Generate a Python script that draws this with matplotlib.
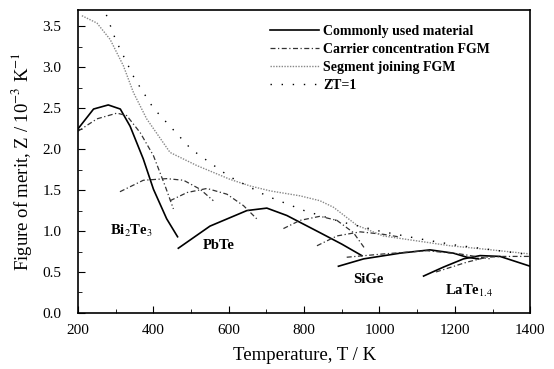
import numpy as np
import matplotlib.pyplot as plt
from matplotlib.ticker import MultipleLocator

plt.rcParams['font.family'] = ['Liberation Serif', 'DejaVu Serif']
plt.rcParams['mathtext.fontset'] = 'stix'

# commonly used material (solid)
bi_T = [200, 241, 280, 312, 338, 373, 400, 435, 464]
bi_Z = [2.25, 2.49, 2.54, 2.49, 2.28, 1.88, 1.51, 1.15, 0.93]
pb_T = [466, 550, 648, 701, 754, 842, 900, 953]
pb_Z = [0.79, 1.06, 1.25, 1.28, 1.19, 0.98, 0.84, 0.70]
sige_T = [891, 958, 1055, 1134, 1196, 1232, 1262]
sige_Z = [0.57, 0.66, 0.73, 0.77, 0.73, 0.68, 0.66]
late_T = [1117, 1170, 1223, 1267, 1320, 1400]
late_Z = [0.45, 0.56, 0.66, 0.70, 0.69, 0.57]

# carrier concentration FGM (dash-dot segments)
cc_T = [
    [200, 250, 303, 329, 365, 400, 431, 453],
    [311, 373, 435, 480, 524, 559],
    [444, 489, 542, 595, 639, 674],
    [745, 789, 842, 887, 931, 962],
    [834, 887, 949, 1010, 1050],
    [913, 1010, 1125, 1214, 1294],
    [1150, 1232, 1285, 1329, 1400],
]
cc_Z = [
    [2.22, 2.37, 2.44, 2.41, 2.20, 1.92, 1.55, 1.27],
    [1.48, 1.62, 1.64, 1.62, 1.51, 1.37],
    [1.37, 1.47, 1.52, 1.45, 1.31, 1.15],
    [1.03, 1.13, 1.18, 1.13, 0.98, 0.78],
    [0.82, 0.94, 0.99, 0.96, 0.93],
    [0.68, 0.72, 0.76, 0.72, 0.66],
    [0.50, 0.62, 0.68, 0.69, 0.69],
]

# segment joining FGM
sj_T = [210, 250, 285, 320, 347, 382, 444, 515, 604, 657, 710, 789, 842, 878,
        940, 1010, 1099, 1188, 1276, 1400]
sj_Z = [3.63, 3.54, 3.34, 3.02, 2.69, 2.37, 1.96, 1.80, 1.63, 1.55, 1.49, 1.43,
        1.37, 1.29, 1.07, 0.94, 0.88, 0.82, 0.78, 0.72]

# ZT = 1
zt_T = [275, 300, 350, 400, 500, 600, 700, 800, 900, 1000, 1100, 1200, 1300, 1400]
zt_Z = [3.64, 3.33, 2.86, 2.50, 2.00, 1.67, 1.43, 1.25, 1.11, 1.00, 0.91, 0.83, 0.77, 0.71]

fig = plt.figure(figsize=(5.54, 3.69), dpi=100)
ax = fig.add_axes([0.141, 0.152, 0.816, 0.821])

solid = dict(color='black', lw=1.2)
ax.plot(bi_T, bi_Z, label='Commonly used material', **solid)
ax.plot(pb_T, pb_Z, **solid)
ax.plot(sige_T, sige_Z, **solid)
ax.plot(late_T, late_Z, **solid)

dd = dict(color='#333333', lw=0.9, ls=(0, (4, 2, 1, 2)))
for i in range(len(cc_T)):
    ax.plot(cc_T[i], cc_Z[i], label='Carrier concentration FGM' if i == 0 else None, **dd)

ax.plot(sj_T, sj_Z, color='#888888', lw=1.0, ls=(0, (1, 1)), label='Segment joining FGM')
ax.plot(zt_T, zt_Z, color='black', lw=1.0, ls=(0, (1, 7)), label='ZT=1')

ax.text(285, 0.95, 'Bi$_2$Te$_3$', fontsize=10.5, fontweight='bold')
ax.text(530, 0.78, 'PbTe', fontsize=10.5, fontweight='bold')
ax.text(930, 0.36, 'SiGe', fontsize=10.5, fontweight='bold')
ax.text(1175, 0.22, 'LaTe$_{1.4}$', fontsize=10.5, fontweight='bold')

ax.set_xlim(200, 1400)
ax.set_ylim(0, 3.7)
ax.xaxis.set_major_locator(MultipleLocator(200))
ax.xaxis.set_minor_locator(MultipleLocator(100))
ax.yaxis.set_major_locator(MultipleLocator(0.5))
ax.yaxis.set_minor_locator(MultipleLocator(0.25))
ax.yaxis.set_major_formatter(plt.FormatStrFormatter('%.1f'))
ax.tick_params(which='both', direction='in', labelsize=11)
ax.tick_params(which='major', length=5)
ax.tick_params(which='minor', length=3)
ax.tick_params(axis='y', pad=12)
ax.tick_params(axis='x', pad=8)
for s in ax.spines.values():
    s.set_linewidth(1.2)

ax.set_xlabel('Temperature, T / K', fontsize=13.5, labelpad=7)
ax.set_ylabel('Figure of merit, Z / 10$^{-3}$ K$^{-1}$', fontsize=13.5, labelpad=6)

leg = ax.legend(loc='upper left', bbox_to_anchor=(0.425, 0.95), frameon=False,
                handlelength=3.5, handletextpad=0.3, labelspacing=0.35,
                borderpad=0, borderaxespad=0, prop={'weight': 'bold', 'size': 10})

fig.savefig('out.png', dpi=100)
